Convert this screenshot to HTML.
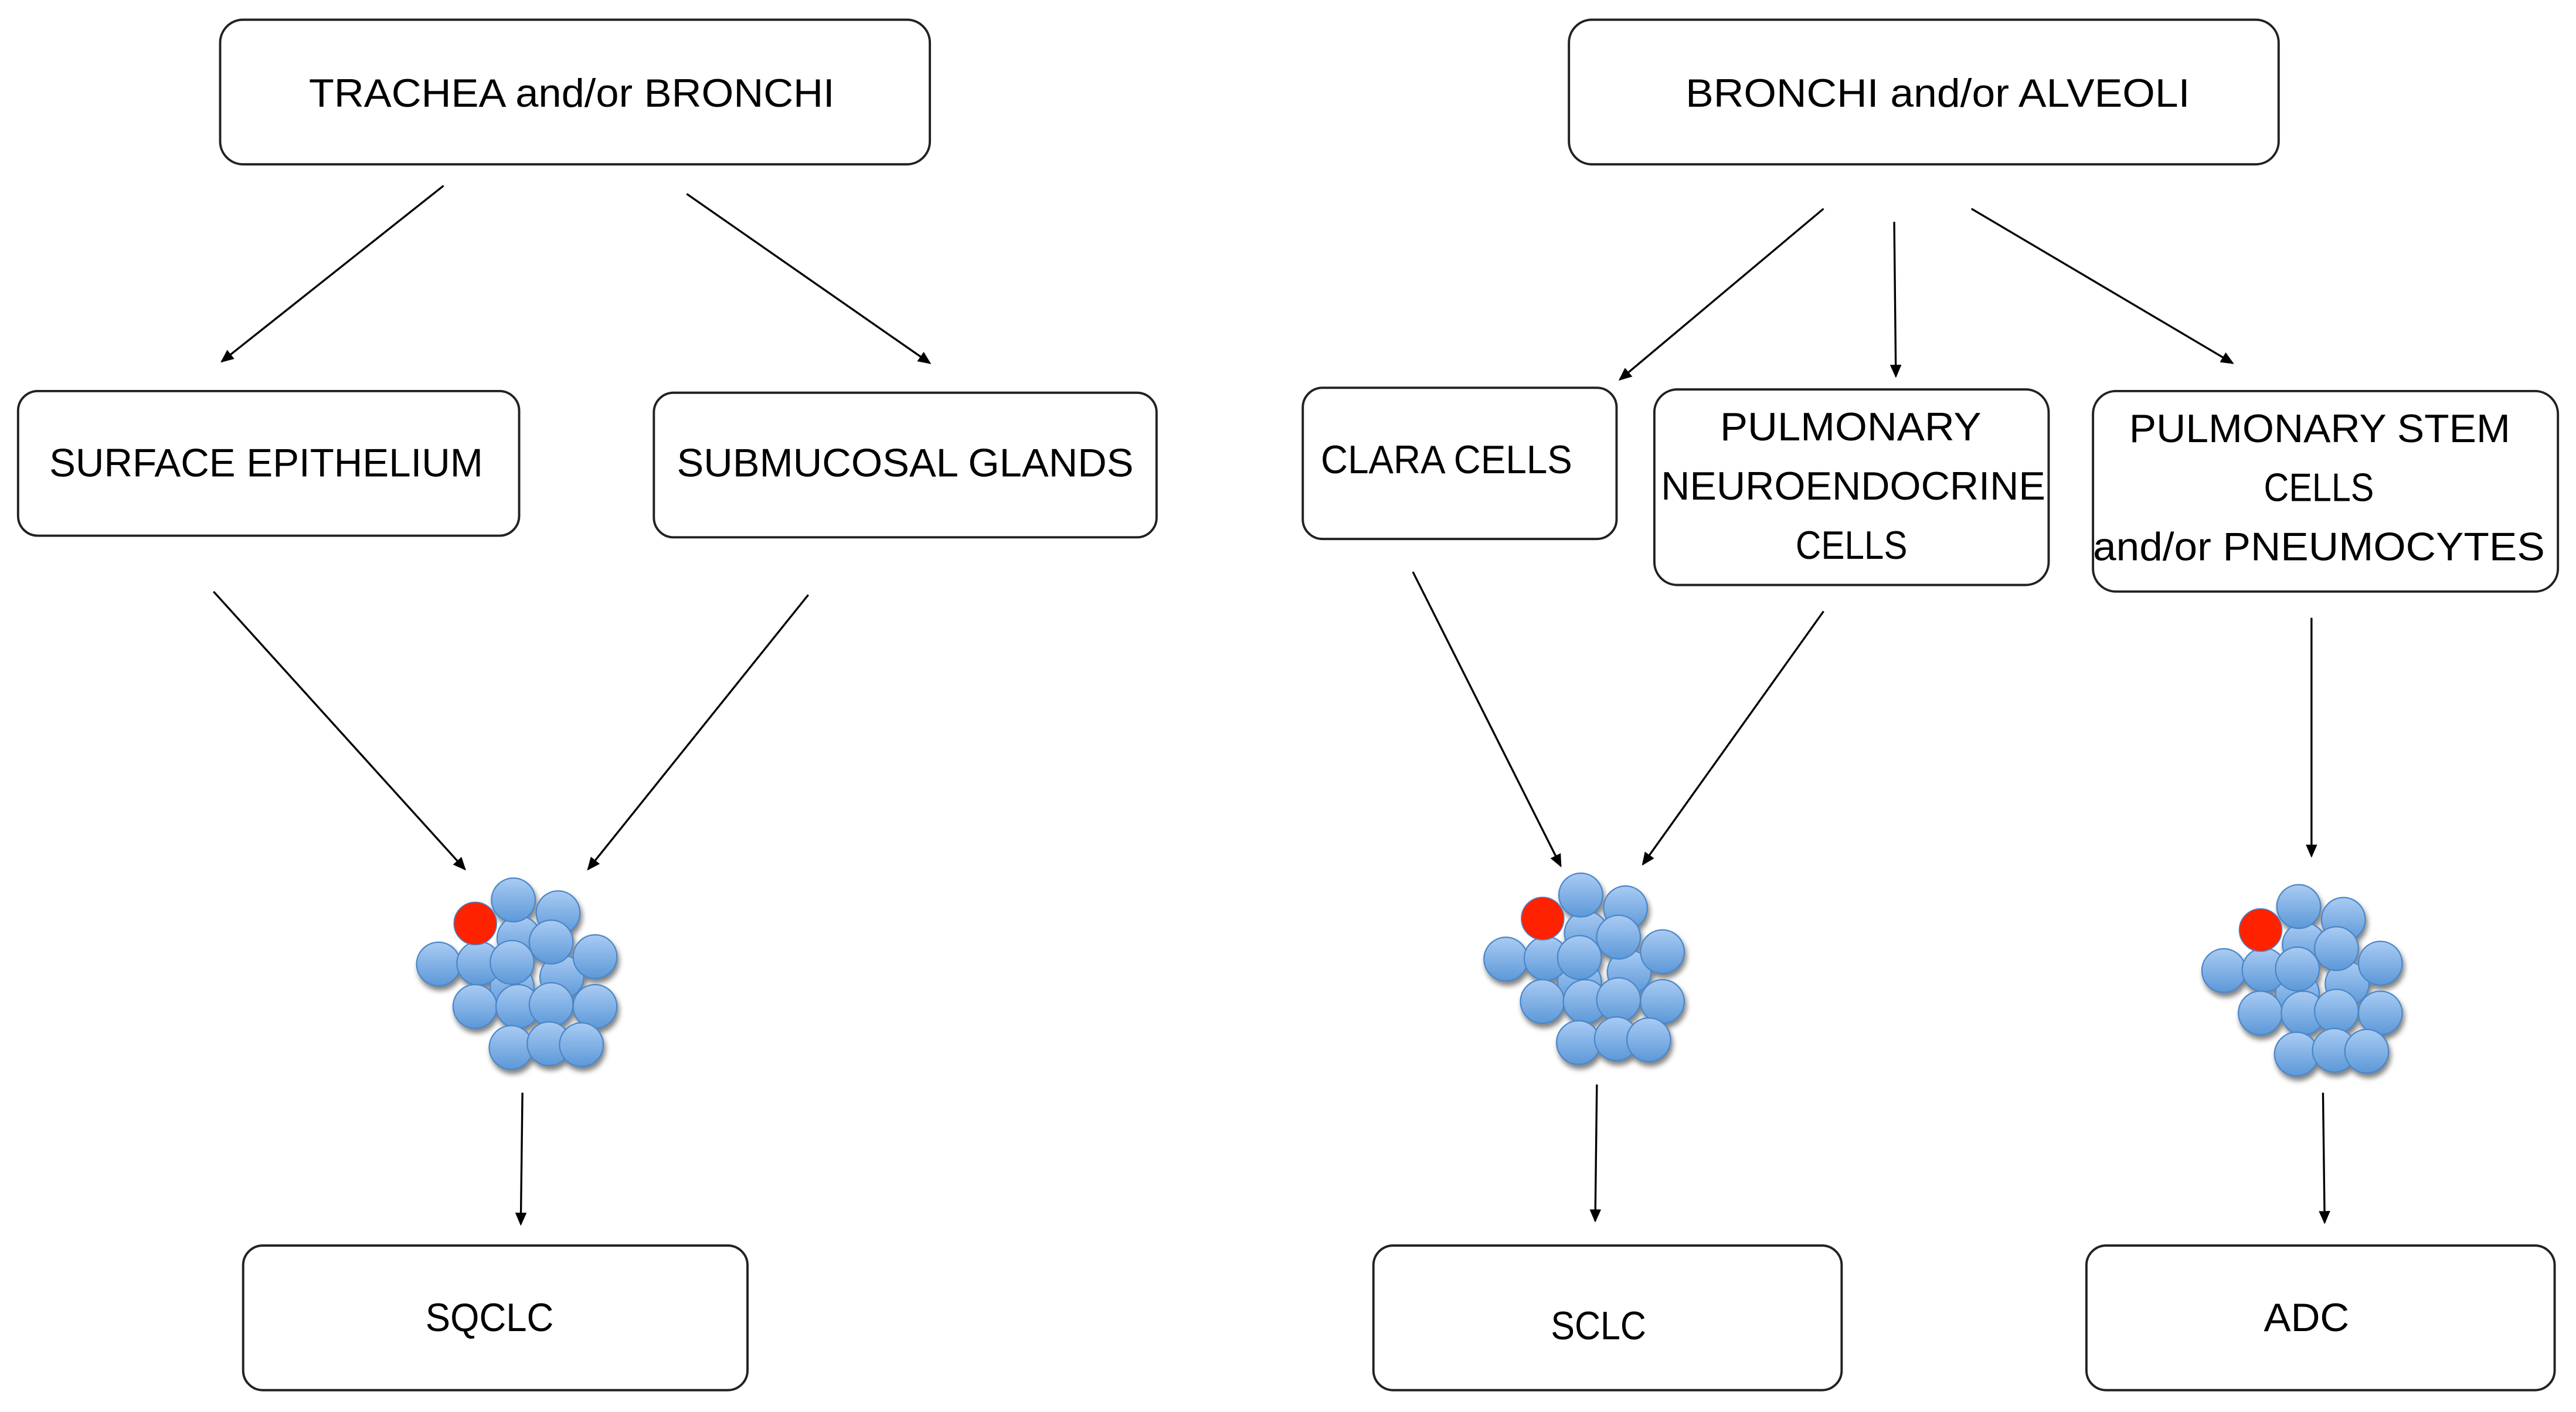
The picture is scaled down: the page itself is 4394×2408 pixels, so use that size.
<!DOCTYPE html>
<html><head><meta charset="utf-8"><style>html,body{margin:0;padding:0;background:#fff}svg{display:block}</style></head>
<body>
<svg width="4394" height="2408" viewBox="0 0 1568 859.3" preserveAspectRatio="none" xmlns="http://www.w3.org/2000/svg">
<defs>
<linearGradient id="bg" x1="0" y1="0" x2="0" y2="1"><stop offset="0" stop-color="#a9cbf3"/><stop offset="1" stop-color="#5c98d8"/></linearGradient>
<filter id="sh" x="-20%" y="-20%" width="150%" height="150%"><feGaussianBlur in="SourceAlpha" stdDeviation="1.6"/><feOffset dx="1" dy="2.5"/><feComponentTransfer><feFuncA type="linear" slope="0.5"/></feComponentTransfer><feMerge><feMergeNode/><feMergeNode in="SourceGraphic"/></feMerge></filter>
<marker id="ah" markerWidth="8" markerHeight="8" refX="7" refY="4" orient="auto" markerUnits="userSpaceOnUse"><path d="M0,0.5 L8,4 L0,7.5 Z" fill="#000"/></marker>
<g id="cl">
<g stroke="#4a86c8" stroke-width="0.8" fill="url(#bg)" filter="url(#sh)">
<circle cx="26.6" cy="8.9" r="13.3"/><circle cx="52.7" cy="32.6" r="13.3"/><circle cx="22.4" cy="38.6" r="13.3"/>
<circle cx="23.2" cy="-14.3" r="13.3"/><circle cx="50.4" cy="-6.5" r="13.3"/><circle cx="46.2" cy="11.3" r="13.3"/>
<circle cx="-22.4" cy="24.7" r="13.3"/><circle cx="2.1" cy="24.3" r="13.3"/><circle cx="22.4" cy="23.7" r="13.3"/>
<circle cx="72.9" cy="20.2" r="13.3"/><circle cx="-0.2" cy="50.5" r="13.3"/><circle cx="25.9" cy="50.5" r="13.3"/>
<circle cx="46.2" cy="49.4" r="13.3"/><circle cx="72.9" cy="50.5" r="13.3"/><circle cx="21.8" cy="75.5" r="13.3"/>
<circle cx="44.9" cy="73.2" r="13.3"/><circle cx="64.6" cy="73.8" r="13.3"/>
</g>
<circle cx="0" cy="0" r="13" fill="#ff2200" stroke="#4a86c8" stroke-width="0.6"/>
</g>
</defs>
<g fill="#fff" stroke="#222" stroke-width="1.4">
<rect x="134" y="12" width="432" height="88" rx="14"/>
<rect x="955" y="12" width="432" height="88" rx="14"/>
<rect x="11" y="238" width="305" height="88" rx="12"/>
<rect x="398" y="239" width="306" height="88" rx="12"/>
<rect x="793" y="236" width="191" height="92" rx="12"/>
<rect x="1007" y="237" width="240" height="119" rx="14"/>
<rect x="1274" y="238" width="283" height="122" rx="14"/>
<rect x="148" y="758" width="307" height="88" rx="12"/>
<rect x="836" y="758" width="285" height="88" rx="12"/>
<rect x="1270" y="758" width="285" height="88" rx="12"/>
</g>
<g stroke="#000" stroke-width="1.2" marker-end="url(#ah)">
<line x1="270" y1="113" x2="135" y2="220"/>
<line x1="418" y1="118" x2="566" y2="221"/>
<line x1="130" y1="360" x2="283" y2="529"/>
<line x1="492" y1="362" x2="358" y2="529"/>
<line x1="318" y1="665" x2="317" y2="745"/>
<line x1="1110" y1="127" x2="986" y2="231"/>
<line x1="1153" y1="135" x2="1154" y2="229"/>
<line x1="1200" y1="127" x2="1359" y2="221"/>
<line x1="860" y1="348" x2="950" y2="527"/>
<line x1="1110" y1="372" x2="1000" y2="526"/>
<line x1="972" y1="660" x2="971" y2="743"/>
<line x1="1407" y1="376" x2="1407" y2="521"/>
<line x1="1414" y1="665" x2="1415" y2="744"/>
</g>
<use href="#cl" x="289.3" y="562"/>
<use href="#cl" x="939" y="559"/>
<use href="#cl" x="1376" y="566"/>
<g font-family="Liberation Sans, sans-serif" font-size="24" fill="#000" lengthAdjust="spacingAndGlyphs">
<text x="188" y="65" textLength="320" lengthAdjust="spacingAndGlyphs">TRACHEA and/or BRONCHI</text>
<text x="1026" y="65" textLength="307" lengthAdjust="spacingAndGlyphs">BRONCHI and/or ALVEOLI</text>
<text x="30" y="290" textLength="264" lengthAdjust="spacingAndGlyphs">SURFACE EPITHELIUM</text>
<text x="412" y="290" textLength="278" lengthAdjust="spacingAndGlyphs">SUBMUCOSAL GLANDS</text>
<text x="804" y="288" textLength="153" lengthAdjust="spacingAndGlyphs">CLARA CELLS</text>
<text x="1047" y="268" textLength="159" lengthAdjust="spacingAndGlyphs">PULMONARY</text>
<text x="1011" y="304" textLength="234" lengthAdjust="spacingAndGlyphs">NEUROENDOCRINE</text>
<text x="1093" y="340" textLength="68" lengthAdjust="spacingAndGlyphs">CELLS</text>
<text x="1296" y="269" textLength="232" lengthAdjust="spacingAndGlyphs">PULMONARY STEM</text>
<text x="1378" y="305" textLength="67" lengthAdjust="spacingAndGlyphs">CELLS</text>
<text x="1274" y="341" textLength="275" lengthAdjust="spacingAndGlyphs">and/or PNEUMOCYTES</text>
<text x="259" y="810" textLength="78" lengthAdjust="spacingAndGlyphs">SQCLC</text>
<text x="944" y="815" textLength="58" lengthAdjust="spacingAndGlyphs">SCLC</text>
<text x="1378" y="810" textLength="52" lengthAdjust="spacingAndGlyphs">ADC</text>
</g>
</svg>
</body></html>
